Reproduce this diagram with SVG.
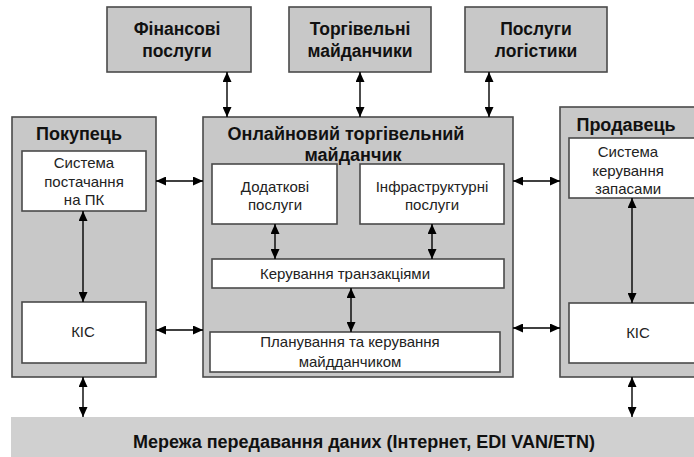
<svg xmlns="http://www.w3.org/2000/svg" width="694" height="457" viewBox="0 0 694 457">
<defs>
<marker id="ah" viewBox="0 0 10 10" refX="10" refY="5" markerWidth="10" markerHeight="9" markerUnits="userSpaceOnUse" orient="auto-start-reverse" preserveAspectRatio="none">
<path d="M0,0 L10,5 L0,10 z" fill="#000"/>
</marker>
<style>
.g{fill:#c8c8c8;stroke:#4a4a4a;stroke-width:1.6}
.w{fill:#fff;stroke:#4a4a4a;stroke-width:1.6}
.t{font-family:"Liberation Sans",Arial,sans-serif;font-size:15px;fill:#222;text-anchor:middle}
.b{font-family:"Liberation Sans",Arial,sans-serif;font-size:18px;font-weight:bold;fill:#111;text-anchor:middle}
.s{font-size:17.5px}
.c line{stroke:#000;stroke-width:1.4;marker-start:url(#ah);marker-end:url(#ah)}
</style>
</defs>
<rect width="694" height="457" fill="#fff"/>
<g id="fin"><rect class="g" x="107" y="7" width="144" height="65"/><text class="b s" x="177" y="35">Фінансові</text><text class="b s" x="177" y="57">послуги</text></g>
<g id="torg"><rect class="g" x="289" y="7" width="142" height="65"/><text class="b s" x="360" y="35">Торгівельні</text><text class="b s" x="360" y="57">майданчики</text></g>
<g id="log"><rect class="g" x="465" y="7" width="142" height="65"/><text class="b s" x="536" y="35">Послуги</text><text class="b s" x="536" y="57">логістики</text></g>
<g id="buyer"><rect class="g" x="12" y="117" width="144" height="260"/><text class="b" x="79" y="140">Покупець</text></g>
<g id="buyer-sup"><rect class="w" x="22" y="151" width="124" height="60"/><text class="t" x="84" y="168">Система</text><text class="t" x="84" y="187">постачання</text><text class="t" x="84" y="205">на ПК</text></g>
<g id="buyer-kis"><rect class="w" x="22" y="302" width="124" height="61"/><text class="t" x="83" y="337">КІС</text></g>
<g id="main"><rect class="g" x="203" y="117" width="310" height="260"/><text class="b" x="346" y="140">Онлайновий торгівельний</text><text class="b" x="353" y="161">майданчик</text></g>
<g id="dod"><rect class="w" x="212" y="164" width="125" height="60"/><text class="t" x="275" y="192">Додаткові</text><text class="t" x="275" y="210">послуги</text></g>
<g id="infra"><rect class="w" x="360" y="164" width="144" height="60"/><text class="t" x="432" y="192">Інфраструктурні</text><text class="t" x="432" y="210">послуги</text></g>
<g id="trans"><rect class="w" x="212" y="259" width="292" height="29"/><text class="t" x="345" y="279">Керування транзакціями</text></g>
<g id="plan"><rect class="w" x="210" y="332" width="290" height="40"/><text class="t" x="350" y="347">Планування та керування</text><text class="t" x="350" y="367">майдданчиком</text></g>
<g id="seller"><rect class="g" x="560" y="107" width="150" height="270"/><text class="b" x="626" y="131">Продавець</text></g>
<g id="seller-inv"><rect class="w" x="569" y="138" width="140" height="60"/><text class="t" x="628" y="157">Система</text><text class="t" x="628" y="176">керування</text><text class="t" x="628" y="194">запасами</text></g>
<g id="seller-kis"><rect class="w" x="569" y="303" width="140" height="60"/><text class="t" x="638" y="338">КІС</text></g>
<g id="net"><rect x="11" y="417" width="683" height="40" fill="#d0d0d0"/><text class="b" x="364" y="448">Мережа передавання даних (Інтернет, EDI VAN/ETN)</text></g>
<g id="connectors" class="c">
<line x1="227" y1="72" x2="227" y2="117"/>
<line x1="360" y1="72" x2="360" y2="117"/>
<line x1="489" y1="72" x2="489" y2="117"/>
<line x1="156" y1="181" x2="203" y2="181"/>
<line x1="156" y1="330" x2="203" y2="330"/>
<line x1="513" y1="181" x2="560" y2="181"/>
<line x1="513" y1="328" x2="560" y2="328"/>
<line x1="83" y1="211" x2="83" y2="302"/>
<line x1="632" y1="198" x2="632" y2="303"/>
<line x1="275" y1="224" x2="275" y2="259"/>
<line x1="432" y1="224" x2="432" y2="259"/>
<line x1="351" y1="288" x2="351" y2="332"/>
<line x1="83" y1="377" x2="83" y2="417"/>
<line x1="632" y1="377" x2="632" y2="417"/>
</g>
</svg>
